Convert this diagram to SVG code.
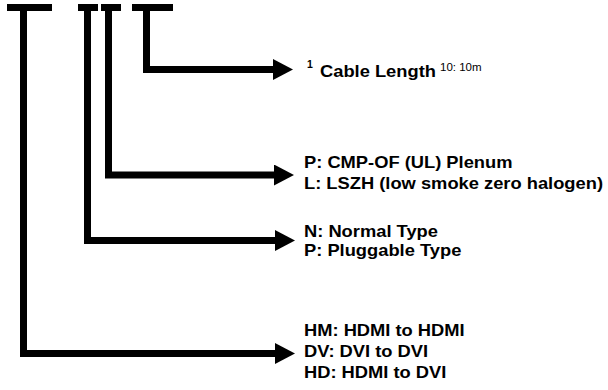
<svg xmlns="http://www.w3.org/2000/svg" width="608" height="390" viewBox="0 0 608 390">
<style>
.bar{fill:#000}
.conn{fill:none;stroke:#000;stroke-width:7;stroke-linejoin:miter;stroke-linecap:butt}
.t{font-family:"Liberation Sans",Arial,sans-serif;font-weight:bold;font-size:16.5px;fill:#000}
.sup{font-family:"Liberation Sans",Arial,sans-serif;font-weight:bold;font-size:10.5px;fill:#000}
.sm{font-family:"Liberation Sans",Arial,sans-serif;font-size:11.5px;fill:#000}
</style>
<defs>
<marker id="ah" viewBox="0 0 20 21" markerWidth="20" markerHeight="21" refX="0" refY="10.5" markerUnits="userSpaceOnUse" orient="auto">
<polygon points="0,0 20,10.5 0,21" fill="#000"/>
</marker>
</defs>
<g id="seg1"><rect class="bar" x="7" y="4" width="45" height="7"/></g>
<g id="seg2"><rect class="bar" x="78" y="4" width="20" height="7"/></g>
<g id="seg3"><rect class="bar" x="101" y="4" width="20" height="7"/></g>
<g id="seg4"><rect class="bar" x="132" y="4" width="41" height="7"/></g>
<g id="connectors">
<path class="conn" d="M146.5,11 V69.5 H273" marker-end="url(#ah)"/>
<path class="conn" d="M108.5,11 V175 H274" marker-end="url(#ah)"/>
<path class="conn" d="M87.5,11 V240.5 H275" marker-end="url(#ah)"/>
<path class="conn" d="M23.5,11 V353.5 H275" marker-end="url(#ah)"/>
</g>
<g id="label-length">
<text class="sup" x="307" y="68">1</text>
<g transform="translate(320,0) scale(1.11,1)"><text class="t" x="0" y="77">Cable Length</text></g>
<text class="sm" x="440" y="71">10: 10m</text>
</g>
<g id="label-jacket" transform="translate(304,0) scale(1.11,1)">
<text class="t" x="0" y="168">P: CMP-OF (UL) Plenum</text>
<text class="t" x="0" y="189">L: LSZH (low smoke zero halogen)</text>
</g>
<g id="label-type" transform="translate(304,0) scale(1.11,1)">
<text class="t" x="0" y="237">N: Normal Type</text>
<text class="t" x="0" y="256">P: Pluggable Type</text>
</g>
<g id="label-connector" transform="translate(304,0) scale(1.11,1)">
<text class="t" x="0" y="336">HM: HDMI to HDMI</text>
<text class="t" x="0" y="357">DV: DVI to DVI</text>
<text class="t" x="0" y="378">HD: HDMI to DVI</text>
</g>
</svg>
